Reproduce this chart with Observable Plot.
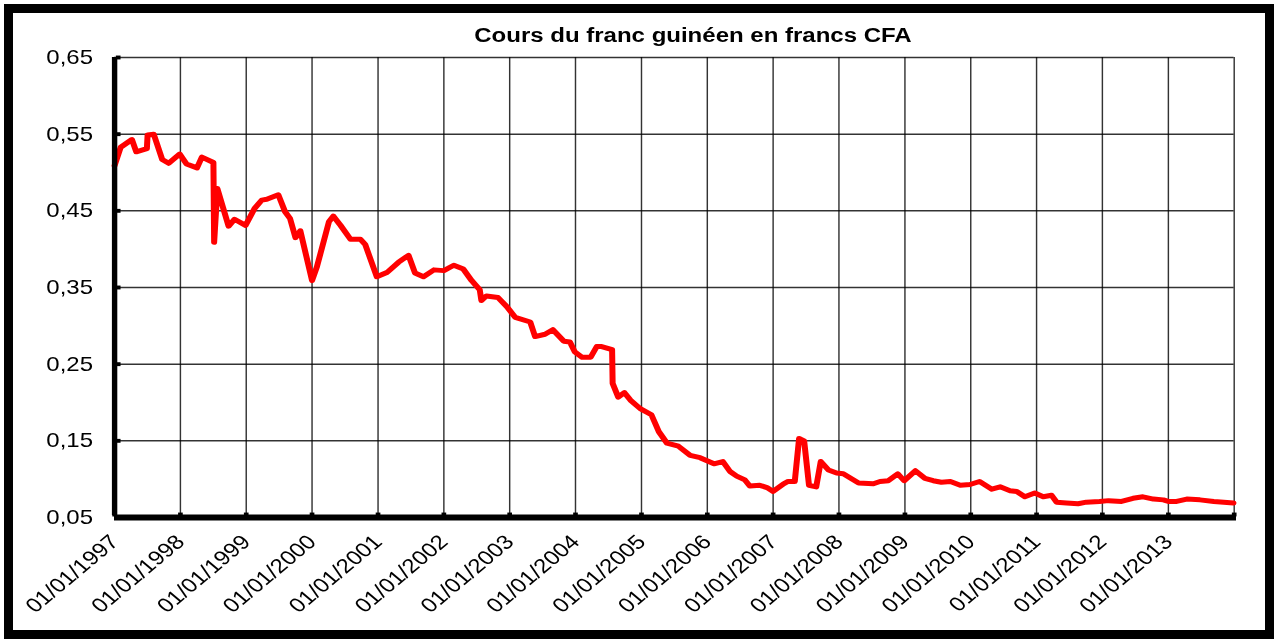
<!DOCTYPE html>
<html>
<head>
<meta charset="utf-8">
<script src="https://cdn.jsdelivr.net/npm/d3@7"></script>
<script src="https://cdn.jsdelivr.net/npm/@observablehq/plot@0.6"></script>
<style>
  html, body { margin: 0; padding: 0; background: #fff; }
  #frame { position: absolute; left: 4px; top: 4px; width: 1270px; height: 635px; box-sizing: border-box; border: 9px solid #000; pointer-events: none; }
  #wrap { position: absolute; left: 0; top: 0; width: 1062px; height: 639px; transform: scaleX(1.2); transform-origin: 0 0; font-family: "Liberation Sans", Arial, sans-serif; }
  #title { position: absolute; left: 0; width: 1155px; top: 26px; text-align: center; font: bold 20px "Liberation Sans", Arial, sans-serif; line-height: 19px; color: #000; white-space: nowrap; }
  #chart { position: absolute; left: 0; top: 0; }
</style>
</head>
<body>
<div id="wrap">
  <div id="chart"></div>
  <div id="title">Cours du franc guinéen en francs CFA</div>
</div>
<div id="frame"></div>
<script>
const titleText = "Cours du franc guinéen en francs CFA";

const dates = [
  "1997-01-01","1997-02-04","1997-04-07","1997-05-01","1997-06-29","1997-07-03","1997-08-06","1997-09-22",
  "1997-10-28","1997-12-28","1998-02-04","1998-04-03","1998-04-30","1998-07-03","1998-07-07","1998-07-25",
  "1998-09-25","1998-10-28","1998-12-28","1999-02-16","1999-03-28","1999-04-25","1999-06-28","1999-08-04",
  "1999-09-01","1999-10-01","1999-10-28","2000-01-01","2000-01-28","2000-04-04","2000-04-28","2000-06-07",
  "2000-08-01","2000-09-25","2000-10-22","2000-12-25","2001-02-22","2001-04-25","2001-06-19","2001-07-25",
  "2001-09-10","2001-11-07","2002-01-01","2002-02-25","2002-04-19","2002-06-04","2002-07-19","2002-07-28",
  "2002-08-25","2002-10-28","2002-12-16","2003-02-01","2003-04-25","2003-05-22","2003-07-16","2003-08-28",
  "2003-10-28","2003-12-01","2003-12-28","2004-02-07","2004-03-25","2004-04-28","2004-05-25","2004-07-22",
  "2004-07-25","2004-08-25","2004-09-28","2004-11-01","2004-12-25","2005-02-25","2005-04-07","2005-05-22",
  "2005-07-25","2005-09-28","2005-11-22","2006-02-07","2006-03-28","2006-05-07","2006-06-13","2006-07-28",
  "2006-08-25","2006-10-19","2006-11-28","2007-01-01","2007-02-28","2007-03-25","2007-05-01","2007-05-25",
  "2007-06-22","2007-07-19","2007-08-28","2007-09-22","2007-11-04","2007-12-19","2008-01-25","2008-04-19",
  "2008-07-10","2008-08-16","2008-10-01","2008-11-22","2008-12-28","2009-02-28","2009-04-22","2009-06-07",
  "2009-07-22","2009-09-10","2009-11-04","2009-12-28","2010-02-19","2010-04-28","2010-06-13","2010-08-07",
  "2010-09-13","2010-10-28","2010-12-22","2011-02-07","2011-03-25","2011-04-22","2011-06-16","2011-08-19",
  "2011-10-04","2011-12-16","2012-02-04","2012-04-16","2012-06-19","2012-08-13","2012-10-10","2012-12-04",
  "2013-01-01","2013-02-16","2013-04-13","2013-06-25","2013-09-10","2013-11-04","2013-12-28"
];
const values = [
  0.509,0.533,0.543,0.527,0.531,0.549,0.550,0.517,
  0.512,0.524,0.511,0.506,0.520,0.513,0.409,0.479,
  0.430,0.439,0.431,0.453,0.464,0.465,0.471,0.449,
  0.440,0.415,0.424,0.359,0.377,0.436,0.443,0.431,
  0.413,0.413,0.406,0.364,0.370,0.383,0.392,0.369,
  0.364,0.373,0.372,0.379,0.374,0.359,0.347,0.333,
  0.339,0.337,0.325,0.311,0.305,0.286,0.289,0.295,
  0.280,0.279,0.266,0.259,0.259,0.273,0.273,0.269,
  0.225,0.207,0.213,0.203,0.192,0.184,0.162,0.147,
  0.143,0.131,0.128,0.120,0.123,0.110,0.104,0.099,
  0.091,0.092,0.089,0.084,0.094,0.097,0.097,0.153,
  0.150,0.092,0.090,0.123,0.112,0.108,0.107,0.095,
  0.094,0.097,0.098,0.107,0.098,0.111,0.101,0.098,
  0.096,0.097,0.092,0.093,0.097,0.087,0.090,0.085,
  0.084,0.077,0.082,0.077,0.079,0.070,0.069,0.068,
  0.070,0.071,0.072,0.071,0.075,0.077,0.074,0.073,
  0.071,0.071,0.074,0.073,0.071,0.070,0.069
];
const yTicks = [0.05, 0.15, 0.25, 0.35, 0.45, 0.55, 0.65];
const tickYears = [1997,1998,1999,2000,2001,2002,2003,2004,2005,2006,2007,2008,2009,2010,2011,2012,2013];
const endYear = 2014;

const data = dates.map((d, i) => ({date: new Date(d + "T00:00:00Z"), value: values[i]}));
const yearDates = tickYears.map(y => new Date(Date.UTC(y, 0, 1)));
const gridDates = yearDates.concat([new Date(Date.UTC(endYear, 0, 1))]);
const x0 = yearDates[0], x1 = new Date(Date.UTC(endYear, 0, 1));
const fmtDate = d3.utcFormat("%d/%m/%Y");
const fmtY = d => d.toFixed(2).replace(".", ",");

const chart = Plot.plot({
  width: 1062,
  height: 639,
  marginTop: 57,
  marginBottom: 122,
  marginLeft: 95,
  marginRight: 34,
  style: {fontFamily: "'Liberation Sans', Arial, sans-serif", fontSize: "20px", color: "#000", background: "transparent", overflow: "visible"},
  x: {type: "utc", domain: [x0, x1], label: null},
  y: {domain: [0.05, 0.65], label: null},
  marks: [
    Plot.ruleX(gridDates, {y1: 0.05, y2: 0.65, stroke: "#000", strokeOpacity: 0.8, strokeWidth: 1.2}),
    Plot.ruleY(yTicks, {x1: x0, x2: x1, stroke: "#000", strokeOpacity: 0.8, strokeWidth: 1.5}),
    Plot.line(data, {x: "date", y: "value", stroke: "#ff0000", strokeWidth: 5, strokeLinejoin: "round", strokeLinecap: "round"}),
    Plot.ruleX([x0], {y1: 0.05, y2: 0.65, stroke: "#000", strokeWidth: 4.5, insetTop: -2}),
    Plot.ruleY([0.05], {x1: x0, x2: x1, stroke: "#000", strokeWidth: 6, insetRight: -2}),
    Plot.dot(yTicks, {x: () => x0, y: d => d, symbol: "square", r: 2.2, fill: "#000", stroke: null, dx: 3}),
    Plot.dot(gridDates, {x: d => d, y: () => 0.05, symbol: "square", r: 2.2, fill: "#000", stroke: null, dy: -3}),
    Plot.axisY(yTicks, {tickFormat: fmtY, tickSize: 0, tickPadding: 18, fontSize: 20, fill: "#000", label: null}),
    Plot.axisX(yearDates, {tickFormat: fmtDate, tickSize: 0, tickPadding: 21, tickRotate: -45, fontSize: 20, fill: "#000", label: null})
  ]
});
document.getElementById("chart").appendChild(chart);
document.getElementById("title").textContent = titleText;
</script>
</body>
</html>
